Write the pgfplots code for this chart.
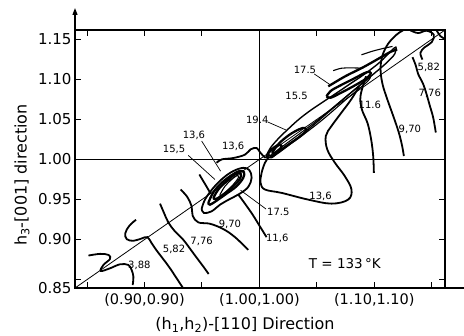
\documentclass[border=0pt]{standalone}
\usepackage{fontspec}
\setmainfont{DejaVu Sans}
\usepackage{pgfplots}
\pgfplotsset{compat=1.18}
\usetikzlibrary{arrows.meta}
\pgfplotsset{
  cont/.style={black, line width=1.8pt, smooth, tension=0.6},
  thick cont/.style={black, line width=2.3pt, smooth, tension=0.6},
  thin cont/.style={black, line width=1.1pt, smooth, tension=0.6},
  lead/.style={black, line width=0.7pt},
}
\tikzset{lab/.style={font=\fontsize{10}{11}\selectfont, inner sep=1pt}}
\begin{document}
\begin{tikzpicture}
\begin{axis}[
  scale only axis, width=370pt, height=258pt,
  xmin=0.8395, xmax=1.1615, ymin=0.8395, ymax=1.1615,
  axis line style={line width=1.2pt},
  tick align=inside, major tick length=6pt,
  tick style={line width=1pt, black},
  xtick={0.85,0.90,0.95,1.00,1.05,1.10,1.15},
  xticklabels={{},{(0.90,0.90)},{},{(1.00,1.00)},{},{(1.10,1.10)},{}},
  ytick={0.85,0.90,0.95,1.00,1.05,1.10,1.15},
  yticklabels={{},0.90,0.95,1.00,1.05,1.10,1.15},
  extra y ticks={0.8395}, extra y tick labels={0.85},
  extra y tick style={major tick length=0pt},
  yticklabel style={font=\fontsize{15}{17}\selectfont},
  xticklabel style={font=\fontsize{14.5}{16}\selectfont, yshift=-2pt},
  clip=false,
]
% reference lines
\addplot[line width=0.8pt] coordinates {(0.8395,0.8395) (1.1615,1.1615)};
\addplot[line width=0.9pt] coordinates {(1,0.8395) (1,1.1615)};
\addplot[line width=0.9pt] coordinates {(0.8395,1) (1.1615,1)};

% 3.88
\addplot[cont] coordinates {(0.8512,0.8800) (0.8613,0.8821) (0.8686,0.8808) (0.8700,0.8758) (0.8642,0.8683) (0.8619,0.8607) (0.8700,0.8641) (0.8787,0.8691) (0.8859,0.8683) (0.8888,0.8620) (0.8903,0.8536) (0.8897,0.8432)};
% 5.82 lower
\addplot[cont] coordinates {(0.8926,0.9247) (0.8868,0.9172) (0.8833,0.9080) (0.8845,0.9005) (0.8903,0.8984) (0.8975,0.9013) (0.9025,0.9030) (0.9062,0.8954) (0.9106,0.8862) (0.9164,0.8754) (0.9222,0.8641) (0.9280,0.8515) (0.9332,0.8402)};
% 7.76 lower
\addplot[cont] coordinates {(0.9135,0.9448) (0.9170,0.9331) (0.9207,0.9214) (0.9265,0.9101) (0.9338,0.8996) (0.9425,0.8829) (0.9512,0.8662) (0.9558,0.8570)};
% 9.70 lower
\addplot[cont] coordinates {(0.9314,0.9624) (0.9372,0.9532) (0.9410,0.9414) (0.9419,0.9297) (0.9468,0.9214) (0.9570,0.9197) (0.9686,0.9130) (0.9787,0.9030) (0.9903,0.8871)};
% 11.6 lower pieces
\addplot[cont] coordinates {(0.9477,0.9812) (0.9517,0.9716) (0.9555,0.9624) (0.9575,0.9573)};
\addplot[cont] coordinates {(0.9816,0.9561) (0.9874,0.9448) (0.9941,0.9310) (1.0004,0.9164) (1.0062,0.9030)};
% lower blob loops
\addplot[cont] coordinates {(0.9497,0.9381) (0.9526,0.9498) (0.9599,0.9645) (0.9686,0.9770) (0.9772,0.9854) (0.9859,0.9895) (0.9912,0.9866) (0.9932,0.9770) (0.9903,0.9657) (0.9830,0.9573) (0.9743,0.9506) (0.9657,0.9435) (0.9584,0.9352) (0.9517,0.9331) (0.9497,0.9381)};
\addplot[thick cont] coordinates {(0.9555,0.9456) (0.9599,0.9590) (0.9671,0.9707) (0.9758,0.9803) (0.9825,0.9854) (0.9865,0.9841) (0.9859,0.9770) (0.9801,0.9665) (0.9714,0.9573) (0.9628,0.9486) (0.9570,0.9435) (0.9555,0.9456)};
\addplot[thick cont] coordinates {(0.9599,0.9519) (0.9642,0.9624) (0.9714,0.9728) (0.9787,0.9812) (0.9836,0.9824) (0.9830,0.9757) (0.9772,0.9665) (0.9691,0.9569) (0.9622,0.9506) (0.9599,0.9519)};
\addplot[thin cont] coordinates {(0.9657,0.9561) (0.9700,0.9665) (0.9758,0.9749) (0.9807,0.9799) (0.9816,0.9770) (0.9772,0.9686) (0.9714,0.9603) (0.9668,0.9540) (0.9657,0.9561)};
% 13.6 wavy line and loop
\addplot[cont] coordinates {(0.9628,0.9958) (0.9671,1.0000) (0.9772,1.0017) (0.9874,1.0059) (0.9923,1.0125) (0.9975,1.0142) (1.0004,1.0092) (1.0048,1.0025) (1.0077,1.0042)};
\addplot[cont] coordinates {(1.0077,1.0021) (1.0048,0.9958) (1.0019,0.9833) (1.0010,0.9707) (1.0048,0.9624) (1.0193,0.9582) (1.0425,0.9498) (1.0628,0.9448) (1.0772,0.9498) (1.0801,0.9624) (1.0743,0.9791) (1.0657,0.9958) (1.0590,1.0125) (1.0578,1.0293) (1.0628,1.0418) (1.0715,1.0586) (1.0801,1.0753) (1.0868,1.0912)};
% upper ridge
\addplot[thin cont, line width=1.4pt] coordinates {(1.0062,1.0050) (1.0097,1.0146) (1.0164,1.0259) (1.0242,1.0368) (1.0338,1.0494) (1.0439,1.0606) (1.0555,1.0719) (1.0671,1.0828) (1.0787,1.0941) (1.0917,1.1067) (1.1048,1.1213) (1.1141,1.1347) (1.1187,1.1401) (1.1178,1.1317) (1.1106,1.1205) (1.1004,1.1079) (1.0888,1.0941) (1.0758,1.0786) (1.0613,1.0606) (1.0468,1.0427) (1.0323,1.0259) (1.0193,1.0125) (1.0106,1.0021) (1.0062,1.0050)};
\addplot[thick cont] coordinates {(1.0599,1.0912) (1.0657,1.0962) (1.0758,1.1046) (1.0903,1.1150) (1.1048,1.1267) (1.1135,1.1338) (1.1199,1.1372)};
\addplot[thin cont] coordinates {(1.0642,1.1108) (1.0715,1.1138) (1.0801,1.1142) (1.0903,1.1138)};
\addplot[thin cont] coordinates {(1.0888,1.1305) (1.0975,1.1347) (1.1062,1.1380) (1.1158,1.1410)};
\addplot[thick cont] coordinates {(1.0584,1.0786) (1.0619,1.0853) (1.0700,1.0920) (1.0816,1.1004) (1.0932,1.1087) (1.0970,1.1075) (1.0923,1.1004) (1.0816,1.0912) (1.0700,1.0824) (1.0619,1.0770) (1.0584,1.0786)};
\addplot[thick cont] coordinates {(1.0114,1.0092) (1.0172,1.0201) (1.0259,1.0305) (1.0346,1.0376) (1.0396,1.0393) (1.0404,1.0351) (1.0352,1.0284) (1.0265,1.0197) (1.0184,1.0117) (1.0126,1.0067) (1.0114,1.0092)};
\addplot[thin cont] coordinates {(1.0106,1.0063) (1.0265,1.0230) (1.0497,1.0481) (1.0729,1.0753) (1.0903,1.0962) (1.0967,1.1037) (1.0932,1.0962) (1.0758,1.0753) (1.0526,1.0468) (1.0294,1.0217) (1.0135,1.0050) (1.0106,1.0063)};
\addplot[thick cont] coordinates {(1.0071,1.0063) (1.0106,1.0125) (1.0164,1.0180) (1.0193,1.0167) (1.0164,1.0105) (1.0106,1.0042) (1.0071,1.0063)};
% 11.6 upper
\addplot[cont] coordinates {(1.0927,1.1037) (1.0880,1.0795) (1.0891,1.0627) (1.0941,1.0452) (1.0972,1.0251) (1.0990,1.0042) (1.0996,0.9833)};
% 9.70 upper
\addplot[cont] coordinates {(1.1251,1.1612) (1.1193,1.1556) (1.1120,1.1443) (1.1071,1.1297) (1.1054,1.1129) (1.1071,1.0941) (1.1112,1.0753) (1.1164,1.0544) (1.1213,1.0335) (1.1242,1.0167) (1.1257,1.0042)};
% 7.76 upper
\addplot[cont] coordinates {(1.1332,1.1276) (1.1361,1.1171) (1.1381,1.1067) (1.1425,1.0941) (1.1454,1.0816) (1.1483,1.0669) (1.1512,1.0523) (1.1535,1.0335)};
% 5.82 upper
\addplot[cont] coordinates {(1.1315,1.1610) (1.1381,1.1577) (1.1454,1.1606) (1.1517,1.1556) (1.1500,1.1464) (1.1439,1.1401) (1.1401,1.1330) (1.1419,1.1246)};
\addplot[cont] coordinates {(1.1541,1.1612) (1.1575,1.1539) (1.1612,1.1506)};
% leader lines
\addplot[lead] coordinates {(0.9497,1.0230) (0.9662,0.9854)};
\addplot[lead] coordinates {(0.9381,1.0050) (0.9613,0.9749)};
\addplot[lead] coordinates {(1.0071,1.0468) (1.0230,1.0368)};
\addplot[lead] coordinates {(1.0477,1.1067) (1.0619,1.0928)};
\addplot[lead] coordinates {(1.0057,0.9381) (0.9836,0.9615)};
% contour labels
\node[lab] at (axis cs:0.9430,1.0301) {13,6};
\node[lab] at (axis cs:0.9257,1.0125) {15,5};
\node[lab] at (axis cs:0.9772,1.0167) {13,6};
\node[lab] at (axis cs:0.9981,1.0494) {19.4};
\node[lab] at (axis cs:1.0396,1.1121) {17.5};
\node[lab] at (axis cs:1.0323,1.0795) {15.5};
\node[lab] at (axis cs:1.0961,1.0678) {11.6};
\node[lab] at (axis cs:1.1309,1.0376) {9,70};
\node[lab] at (axis cs:1.1483,1.0824) {7,76};
\node[lab] at (axis cs:1.1474,1.1150) {5,82};
\node[lab] at (axis cs:1.0532,0.9540) {13,6};
\node[lab] at (axis cs:1.0164,0.9339) {17.5};
\node[lab] at (axis cs:1.0155,0.9009) {11,6};
\node[lab] at (axis cs:0.9743,0.9193) {9,70};
\node[lab] at (axis cs:0.9497,0.8975) {7,76};
\node[lab] at (axis cs:0.9257,0.8871) {5,82};
\node[lab] at (axis cs:0.8955,0.8683) {3,88};
\node[font=\fontsize{13.5}{15}\selectfont] at (axis cs:1.0743,0.8704) {T = 133\,°K};
\end{axis}
\draw[line width=1.2pt,-{Triangle[length=7pt,width=5pt]}] (current axis.north west) -- ++(0,22pt);
\draw[line width=1.2pt] (current axis.south east) -- ++(19pt,0);
\node[rotate=90, font=\fontsize{16}{18}\selectfont] at ([xshift=-53pt,yshift=-16pt]current axis.west) {h\textsubscript{3}-[001] direction};
\node[font=\fontsize{16}{18}\selectfont] at ([xshift=-15pt,yshift=-37pt]current axis.south) {(h\textsubscript{1},h\textsubscript{2})-[110] Direction};
\pgfresetboundingbox
\path ([xshift=-75pt,yshift=-47pt]current axis.south west) rectangle ([xshift=19pt,yshift=30pt]current axis.north east);
\end{tikzpicture}
\end{document}
